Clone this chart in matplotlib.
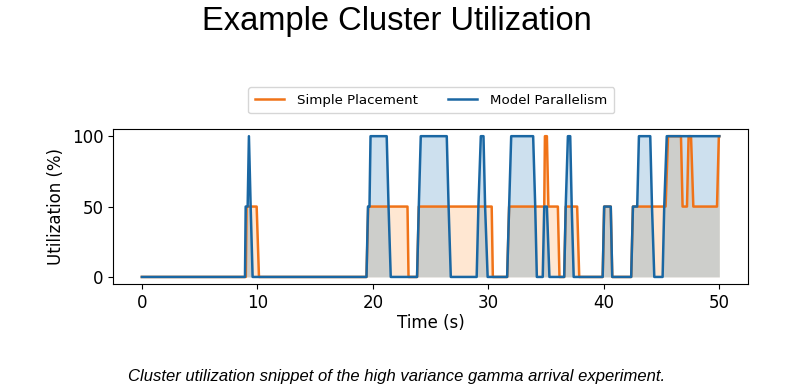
import numpy as np
import matplotlib.pyplot as plt

# breakpoints (time in s, utilization in %)
simple_t = [0, 9.0, 9.07, 9.94, 10.14, 19.45, 19.6, 23.0, 23.09, 23.83, 23.98,
            30.29, 30.39, 31.63, 31.8, 34.84, 34.9, 35.07, 35.2, 36.02, 36.16,
            36.57, 36.7, 37.69, 37.87, 39.9, 40.03, 40.6, 40.73, 42.37, 42.52,
            45.35, 45.56, 46.68, 46.82, 47.2, 47.34, 47.55, 47.75, 49.8, 49.96, 50]
simple_u = [0, 0, 50, 50, 0, 0, 50, 50, 0, 0, 50,
            50, 0, 0, 50, 50, 100, 100, 50, 50, 0,
            0, 50, 50, 0, 0, 50, 50, 0, 0, 50,
            50, 100, 100, 50, 50, 100, 100, 50, 50, 100, 100]

model_t = [0, 8.93, 8.99, 9.16, 9.27, 9.42, 9.59, 19.45, 19.58, 19.71, 19.8,
           21.2, 21.36, 21.55, 23.83, 23.98, 24.15, 26.4, 26.56, 26.75,
           28.99, 29.14, 29.35, 29.58, 29.72, 29.94, 31.63, 31.8, 31.98,
           33.88, 34.06, 34.2, 34.71, 34.84, 35.07, 35.29, 36.57, 36.7,
           36.89, 37.09, 37.22, 37.39, 39.9, 40.03, 40.6, 40.73, 42.37,
           42.52, 42.89, 43.04, 44.02, 44.17, 44.37, 45.09, 45.23, 45.45, 50]
model_u = [0, 0, 50, 50, 100, 50, 0, 0, 50, 50, 100,
           100, 50, 0, 0, 50, 100, 100, 50, 0,
           0, 50, 100, 100, 50, 0, 0, 50, 100,
           100, 50, 0, 0, 50, 50, 0, 0, 50,
           100, 100, 50, 0, 0, 50, 50, 0, 0,
           50, 50, 100, 100, 50, 0, 0, 50, 100, 100]

orange = '#f07318'
blue = '#1a67a3'

fig = plt.figure(figsize=(7.94, 3.91), dpi=100)
ax = fig.add_axes([0.1423, 0.2737, 0.800, 0.396])

ax.fill_between(simple_t, simple_u, color='#ff8a1e', alpha=0.2, linewidth=0)
ax.fill_between(model_t, model_u, color='#2a7db8', alpha=0.23, linewidth=0)
ax.plot(simple_t, simple_u, color=orange, linewidth=1.8, label='Simple Placement')
ax.plot(model_t, model_u, color=blue, linewidth=1.8, label='Model Parallelism')

ax.set_xticks([0, 10, 20, 30, 40, 50])
ax.set_yticks([0, 50, 100])
ax.tick_params(labelsize=12)
ax.set_xlabel('Time (s)', fontsize=12, labelpad=2)
ax.set_ylabel('Utilization (%)', fontsize=12, labelpad=5)

fig.legend(loc='center', bbox_to_anchor=(0.543, 0.744), ncol=2, fontsize=9.6,
           frameon=True, handlelength=2.2, handletextpad=1.0, columnspacing=2.2,
           borderpad=0.5)

fig.text(0.5, 0.944, 'Example Cluster Utilization', ha='center', va='center',
         fontsize=23.5, family='Liberation Sans')
fig.text(0.5, 0.036, 'Cluster utilization snippet of the high variance gamma arrival experiment.',
         ha='center', va='center', fontsize=12, style='italic', family='Liberation Sans')

fig.savefig('out.png', dpi=100)
